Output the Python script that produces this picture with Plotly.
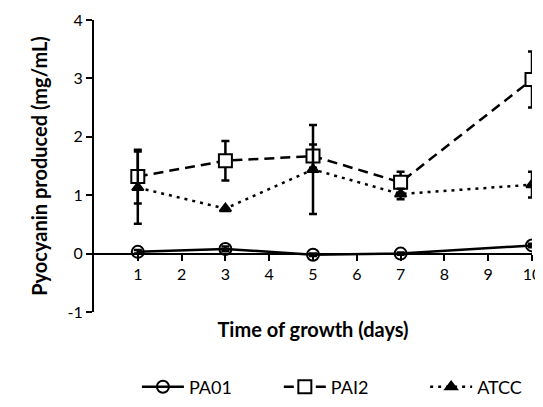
import plotly.graph_objects as go

days = [1, 3, 5, 7, 10]
pa01 = [0.03, 0.08, -0.02, 0.0, 0.14]
pa01_err = [0.03, 0.04, 0.02, 0.02, 0.03]
pai2 = [1.32, 1.59, 1.67, 1.22, 2.98]
pai2_err = [0.46, 0.34, 0.20, 0.18, 0.48]
atcc = [1.13, 0.77, 1.44, 1.02, 1.18]
atcc_err = [0.62, 0.0, 0.76, 0.09, 0.22]

x_ticks = [1, 2, 3, 4, 5, 6, 7, 8, 9, 10]
y_ticks = [-1, 0, 1, 2, 3, 4]

FONT = "Lato"
fig = go.Figure()

def add(name, y, err, symbol, dash, size, fill, legend):
    fig.add_trace(go.Scatter(
        x=days, y=y, name=name, mode="lines+markers", legend=legend,
        line=dict(color="black", width=2.5, dash=dash),
        marker=dict(symbol=symbol, size=size, color=fill,
                    line=dict(color="black", width=2)),
        error_y=dict(type="data", array=err, visible=True,
                     color="black", thickness=2.5, width=4),
    ))

add("PA01", pa01, pa01_err, "circle-open", "solid", 12, "black", "legend")
add("PAI2", pai2, pai2_err, "square", "10px,6px", 13, "white", "legend2")
add("ATCC", atcc, atcc_err, "triangle-up", "3px,5px", 10, "black", "legend3")

def leg(x):
    return dict(orientation="h", x=x, xanchor="left", y=-0.257, yanchor="middle",
                itemwidth=42,
                font=dict(size=18, family=FONT), bgcolor="rgba(0,0,0,0)")

# page body adds an 8px offset, so the figure is sized to fit the window
fig.update_layout(
    width=535, height=399,
    margin=dict(l=86, r=11, t=12, b=95, autoexpand=False),
    paper_bgcolor="white", plot_bgcolor="white",
    font=dict(family=FONT, color="black", size=16),
    showlegend=True,
    legend=leg(0.098), legend2=leg(0.422), legend3=leg(0.756),
    xaxis=dict(range=[0, 10], tickvals=x_ticks, ticktext=[str(v) for v in x_ticks],
               showgrid=False, zeroline=False, showline=True,
               linecolor="black", linewidth=2,
               ticks="outside", ticklen=6, tickwidth=2, tickcolor="black",
               anchor="free", position=0.2,
               tickfont=dict(size=16, family=FONT),
               title=dict(text="<b>Time of growth (days)</b>", standoff=40,
                          font=dict(size=20, family=FONT))),
    yaxis=dict(range=[-1, 4], tickvals=y_ticks, ticktext=[str(v) for v in y_ticks],
               showgrid=False, zeroline=False, showline=True,
               linecolor="black", linewidth=2,
               ticks="outside", ticklen=6, tickwidth=2, tickcolor="black",
               tickfont=dict(size=16, family=FONT),
               title=dict(text="<b>Pyocyanin produced (mg/mL)</b>",
                          font=dict(size=20, family=FONT))),
)

fig.write_html("out.html")
